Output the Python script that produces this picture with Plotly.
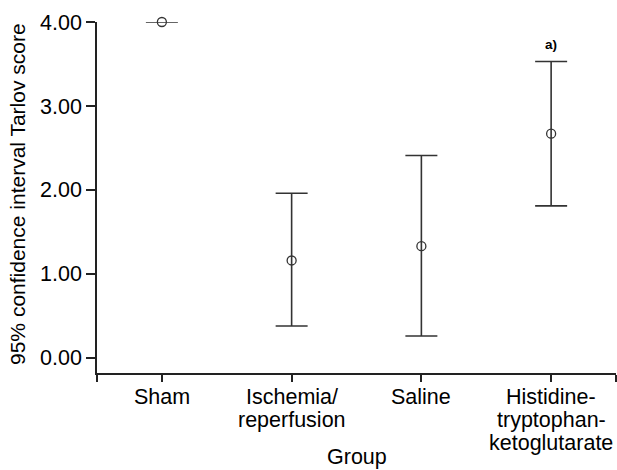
import plotly.graph_objects as go

groups = ["Sham", "Ischemia/<br>reperfusion", "Saline", "Histidine-<br>tryptophan-<br>ketoglutarate"]
means = [4.00, 1.16, 1.33, 2.67]
lower = [4.00, 0.38, 0.26, 1.81]
upper = [4.00, 1.96, 2.41, 3.53]
y_ticks = [0, 1, 2, 3, 4]
sig_labels = ["", "", "", "a)"]

xpos = list(range(len(groups)))
err_plus = [u - m for u, m in zip(upper, means)]
err_minus = [m - l for m, l in zip(means, lower)]

FONT = "Liberation Sans, Arial, sans-serif"
FS = 21.5
LINE = "#333333"

fig = go.Figure()
fig.add_trace(go.Scatter(
    x=xpos, y=means, mode="markers",
    marker=dict(symbol="circle-open", size=9, color=LINE, line=dict(width=1.3, color=LINE)),
    error_y=dict(type="data", symmetric=False, array=err_plus, arrayminus=err_minus,
                 color=LINE, thickness=1.6, width=16, visible=True),
    cliponaxis=False, showlegend=False, hoverinfo="skip",
))

for xi, yi, lab in zip(xpos, upper, sig_labels):
    if lab:
        fig.add_annotation(x=xi, y=yi, text="<b>" + lab + "</b>", showarrow=False,
                           yanchor="bottom", yshift=7, font=dict(size=13.5, color="black", family=FONT))

# category labels, one annotation per text line for tight line spacing
for xi, g in zip(xpos, groups):
    for j, part in enumerate(g.split("<br>")):
        fig.add_annotation(x=xi, xref="x", yref="paper", y=0, yanchor="middle", xanchor="center",
                           yshift=-24 - 23.2 * j, text=part, showarrow=False,
                           font=dict(size=FS, color="black", family=FONT))

fig.add_annotation(xref="paper", yref="paper", x=0, y=0.51, xanchor="center", yanchor="middle",
                   xshift=-79, text="95% confidence interval Tarlov score", textangle=-90,
                   showarrow=False, font=dict(size=21, color="black", family=FONT))
fig.add_annotation(xref="paper", yref="paper", x=0.5, y=0, xanchor="center", yanchor="middle",
                   yshift=-84, text="Group", showarrow=False,
                   font=dict(size=FS, color="black", family=FONT))

fig.update_layout(
    width=617, height=470,
    margin=dict(l=97, r=1, t=22, b=97),
    paper_bgcolor="white", plot_bgcolor="white",
    font=dict(family=FONT, size=FS, color="black"),
    xaxis=dict(range=[-0.5, 3.5], tickmode="array",
               tickvals=[-0.5] + xpos + [3.5], ticktext=[""] * (len(xpos) + 2),
               ticks="outside", ticklen=7, tickwidth=1.5, tickcolor="#222",
               showline=True, linecolor="#222", linewidth=1.5, showgrid=False, zeroline=False),
    yaxis=dict(range=[-0.18, 4.0], tickmode="array", tickvals=y_ticks,
               ticktext=["%.2f" % v for v in y_ticks],
               ticks="outside", ticklen=9, tickwidth=1.5, tickcolor="#222",
               showline=True, linecolor="#222", linewidth=1.5, showgrid=False, zeroline=False,
               tickfont=dict(size=FS, family=FONT, color="black")),
)

fig.write_html("out.html")
